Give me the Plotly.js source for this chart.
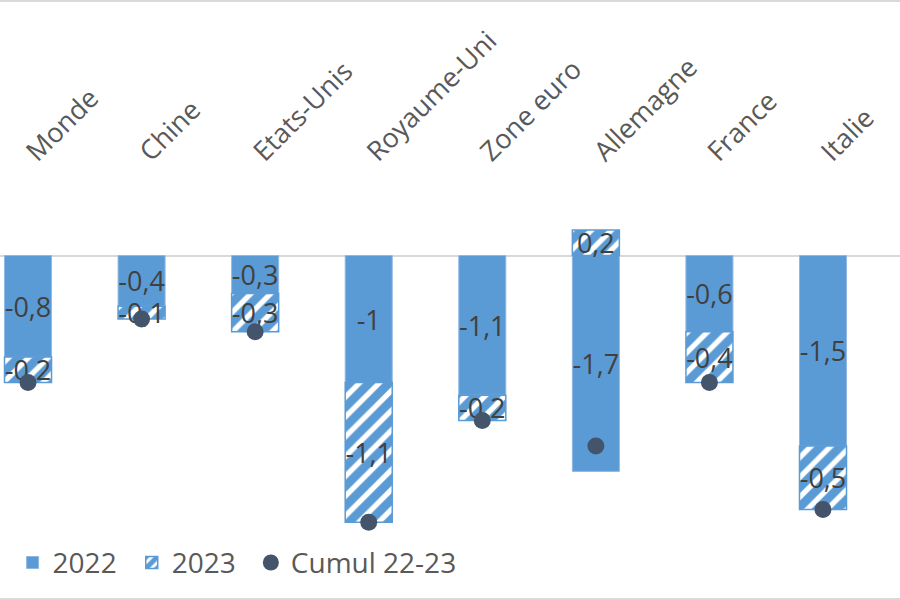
<!DOCTYPE html>
<html>
<head>
<meta charset="utf-8">
<script src="https://cdn.plot.ly/plotly-3.0.1.min.js"></script>
<style>html,body{margin:0;padding:0;background:#fff}#chart{width:900px;height:600px}</style>
</head>
<body>
<div id="chart"></div>
<script>
const categories = ["Monde", "Chine", "Etats-Unis", "Royaume-Uni", "Zone euro", "Allemagne", "France", "Italie"];
const values2022 = [-0.8, -0.4, -0.3, -1, -1.1, -1.7, -0.6, -1.5];
const values2023 = [-0.2, -0.1, -0.3, -1.1, -0.2, 0.2, -0.4, -0.5];
const cumul2223 = [-1.0, -0.5, -0.6, -2.1, -1.3, -1.5, -1.0, -2.0];
const seriesNames = ["2022", "2023", "Cumul 22-23"];

const fmt = v => String(v).replace('.', ',');
const pad = s => s + "\u00a0\u200a";
const FONT = "Open Sans, sans-serif";
const BLUE = "#5B9BD5";
const labelFont = {family: FONT, size: 27, color: "#404040"};

const traces = [
  {
    type: "bar", name: pad(seriesNames[0]), x: categories, y: values2022,
    text: values2022.map(fmt), textposition: "inside", insidetextanchor: "middle",
    constraintext: "none", textangle: 0, insidetextfont: labelFont, textfont: labelFont,
    marker: {color: BLUE, line: {color: "#8FB8E2", width: 1}},
    hoverinfo: "skip"
  },
  {
    type: "bar", name: pad(seriesNames[1]), x: categories, y: values2023,
    text: values2023.map(fmt), textposition: "inside", insidetextanchor: "middle",
    constraintext: "none", textangle: 0, insidetextfont: labelFont, textfont: labelFont,
    marker: {color: "#ffffff", line: {color: BLUE, width: 1.5},
             pattern: {shape: "/", fgcolor: BLUE, bgcolor: "#ffffff", fgopacity: 1, size: 14, solidity: 0.62, fillmode: "overlay"}},
    hoverinfo: "skip"
  },
  {
    type: "scatter", mode: "markers", name: seriesNames[2], x: categories, y: cumul2223,
    marker: {color: "#44546A", size: 17},
    hoverinfo: "skip"
  }
];

const zeroPx = 255.5, pxPerUnit = 127, H = 600;
const layout = {
  width: 900, height: 600,
  margin: {l: 0, r: 0, t: 0, b: 0},
  paper_bgcolor: "#ffffff", plot_bgcolor: "#ffffff",
  barmode: "relative", bargap: 0.586,
  showlegend: true,
  font: {family: FONT, color: "#595959"},
  xaxis: {
    type: "category", categoryorder: "array", categoryarray: categories,
    range: [-0.2466, 7.678],
    side: "top", anchor: "free", position: 0.713,
    tickangle: -45, tickfont: {family: FONT, size: 27, color: "#595959"},
    showgrid: false, zeroline: false, showline: false, ticks: "", fixedrange: true
  },
  yaxis: {
    range: [-(H - zeroPx) / pxPerUnit, zeroPx / pxPerUnit],
    showticklabels: false, showgrid: false, ticks: "",
    zeroline: true, zerolinecolor: "#d9d9d9", zerolinewidth: 2, fixedrange: true
  },
  legend: {
    orientation: "h", x: 0.014, xanchor: "left", y: 0.062, yanchor: "middle",
    font: {family: FONT, size: 28, color: "#595959"},
    bgcolor: "rgba(0,0,0,0)", traceorder: "normal"
  },
  shapes: [
    {type: "line", xref: "paper", yref: "paper", x0: 0, x1: 1, y0: 1 - 1 / H, y1: 1 - 1 / H, line: {color: "#d9d9d9", width: 2}},
    {type: "line", xref: "paper", yref: "paper", x0: 0, x1: 1, y0: 1 / H, y1: 1 / H, line: {color: "#d9d9d9", width: 2}}
  ]
};

Plotly.newPlot("chart", traces, layout, {displayModeBar: false, staticPlot: true});
</script>
</body>
</html>
